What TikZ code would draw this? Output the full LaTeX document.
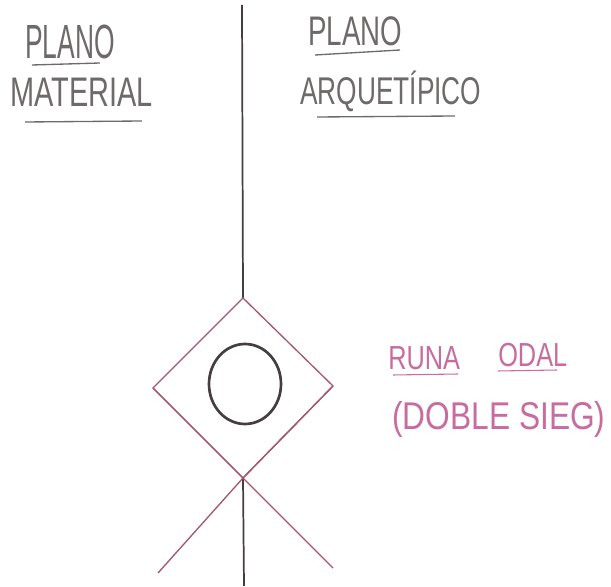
\documentclass[tikz,border=0pt]{standalone}
\usepackage{fontspec}
\setmainfont{Liberation Sans}
\definecolor{pencil}{HTML}{6E6A6A}
\definecolor{rosa}{HTML}{C86CA0}
\definecolor{runeline}{HTML}{A8566E}
\definecolor{ink}{HTML}{443E3E}
\newcommand{\hand}[2]{\scalebox{#1}[1]{#2}}
\begin{document}
\begin{tikzpicture}[x=0.75pt, y=0.75pt,
    label/.style={anchor=base west, inner sep=0pt, text=pencil},
    rojo/.style={anchor=base west, inner sep=0pt, text=rosa},
    uline/.style={pencil, line width=1pt},
    rline/.style={rosa, line width=0.8pt},
    rune/.style={runeline, line width=1pt}]
    \useasboundingbox (0,0) rectangle (611,586);
    % planos
    \node[label, font=\fontsize{36}{40}\selectfont] (plm) at (25,527) {\hand{0.55}{PLANO}};
    \node[label, font=\fontsize{31}{35}\selectfont] (mat) at (10,479) {\hand{0.70}{MATERIAL}};
    \node[label, font=\fontsize{31}{35}\selectfont] (pla) at (308,540) {\hand{0.67}{PLANO}};
    \node[label, font=\fontsize{29}{33}\selectfont] (arq) at (300,481) {\hand{0.68}{ARQUETÍPICO}};
    \draw[uline] (32,521) -- (100,523);
    \draw[uline] (25,464) -- (142,465);
    \draw[uline] (315,531) -- (400,536);
    \draw[uline] (317,469) -- (455,470);
    % runa
    \coordinate (top) at (243,288);
    \coordinate (left) at (153,198);
    \coordinate (right) at (333,200);
    \coordinate (bot) at (243,108);
    \coordinate (legl) at (158,13);
    \coordinate (legr) at (333,18);
    \draw[ink, line width=1.3pt] (242,581) -- (top);
    \draw[ink, line width=1.3pt] (bot) -- (244,0);
    \draw[rune] (top) -- (right) -- (bot) -- (left) -- cycle;
    \draw[rune] (left) -- (bot) -- (legr);
    \draw[rune] (right) -- (bot) -- (legl);
    \draw[ink, line width=2pt] (245,202) ellipse (36 and 40);
    % texto rojo
    \node[rojo, font=\fontsize{25}{29}\selectfont] (runa) at (388,216) {\hand{0.76}{RUNA}};
    \node[rojo, font=\fontsize{25}{29}\selectfont] (odal) at (498,219) {\hand{0.76}{ODAL}};
    \node[rojo, font=\fontsize{29}{33}\selectfont] (sieg) at (392,156) {\hand{0.82}{(DOBLE SIEG)}};
    \draw[rline] (393,211) -- (458,212);
    \draw[rline] (498,215) -- (557,216);
\end{tikzpicture}
\end{document}
